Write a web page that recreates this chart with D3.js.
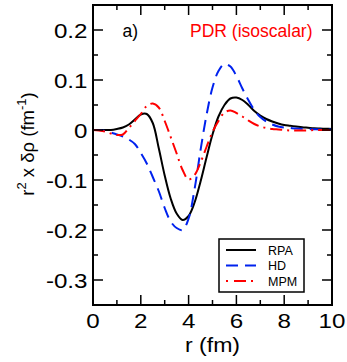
<!DOCTYPE html>
<html><head><meta charset="utf-8">
<script src="https://cdn.jsdelivr.net/npm/d3@7"></script>
<style>body{margin:0;background:#fff}svg{display:block}text{font-family:"Liberation Sans",Arial,Helvetica,sans-serif}</style>
</head><body>
<script>
const rValues = d3.range(0, 10.001, 0.25);
const rpa = [0,0,0,0,0.002,0.005,0.011,0.021,0.031,0.032,0.014,-0.036,-0.091,-0.137,-0.167,-0.18,-0.172,-0.145,-0.103,-0.055,-0.009,0.027,0.05,0.063,0.065,0.06,0.05,0.038,0.029,0.022,0.017,0.013,0.010,0.0085,0.007,0.0055,0.0045,0.0035,0.003,0.0025,0.002];
const hd = [0,0,-0.002,-0.005,-0.009,-0.013,-0.019,-0.028,-0.046,-0.067,-0.094,-0.122,-0.156,-0.183,-0.196,-0.2,-0.177,-0.118,-0.04,0.03,0.085,0.118,0.132,0.127,0.108,0.083,0.06,0.04,0.026,0.017,0.011,0.007,0.005,0.004,0.003,0.0025,0.002,0.0015,0.001,0.001,0.001];
const mpm = [0,-0.001,-0.003,-0.007,-0.01,-0.009,0.004,0.018,0.032,0.048,0.053,0.045,0.018,-0.014,-0.047,-0.08,-0.099,-0.09,-0.065,-0.034,-0.004,0.018,0.035,0.039,0.034,0.027,0.019,0.012,0.007,0.004,0.002,0.001,0,-0.001,-0.001,-0.001,-0.001,0,0,0,0];
const seriesNames = ["RPA","HD","MPM"];
const xTicks = [0,2,4,6,8,10];
const yTicks = [-0.3,-0.2,-0.1,0,0.1,0.2];
const yTickLabels = ["-0.3","-0.2","-0.1","0","0.1","0.2"];

const W = 347, H = 362;
const svg = d3.select("body").append("svg").attr("width", W).attr("height", H);
const x = d3.scaleLinear().domain([0,10]).range([93,332]);
const y = d3.scaleLinear().domain([-0.35,0.25]).range([305,5]);

const styles = [
  {color:"#000", dash:null},
  {color:"#0022ee", dash:"12,7"},
  {color:"#ff0000", dash:"12,5,2,5"}
];
const data = [rpa, hd, mpm];
const line = d3.line().x((d,i)=>x(rValues[i])).y(d=>y(d)).curve(d3.curveCatmullRom.alpha(0.5));

svg.append("clipPath").attr("id","c").append("rect")
  .attr("x",x(0)).attr("y",y(0.25)).attr("width",x(10)-x(0)).attr("height",y(-0.35)-y(0.25));
const g = svg.append("g").attr("clip-path","url(#c)");
data.forEach((arr,k)=>{
  g.append("path").attr("d", line(arr)).attr("fill","none")
   .attr("stroke", styles[k].color).attr("stroke-width",2)
   .attr("stroke-dasharray", styles[k].dash);
});

// frame
svg.append("rect").attr("x",x(0)).attr("y",y(0.25)).attr("width",x(10)-x(0)).attr("height",y(-0.35)-y(0.25))
  .attr("fill","none").attr("stroke","#000").attr("stroke-width",2);

// ticks
const tk = svg.append("g").attr("stroke","#000").attr("stroke-width",1.5);
d3.range(0,10.001,1).forEach(v=>{
  const L = (Math.round(v)%2===0)?10:5;
  tk.append("line").attr("x1",x(v)).attr("x2",x(v)).attr("y1",y(-0.35)).attr("y2",y(-0.35)-L);
  tk.append("line").attr("x1",x(v)).attr("x2",x(v)).attr("y1",y(0.25)).attr("y2",y(0.25)+L);
});
d3.range(-0.35,0.2501,0.05).forEach(v=>{
  const major = Math.abs(Math.round(v*100)%10)===0;
  const L = major?10:5;
  tk.append("line").attr("x1",x(0)).attr("x2",x(0)+L).attr("y1",y(v)).attr("y2",y(v));
  tk.append("line").attr("x1",x(10)).attr("x2",x(10)-L).attr("y1",y(v)).attr("y2",y(v));
});

// tick labels (slightly wide glyphs as in the reference)
const sx = 1.15;
xTicks.forEach(v=>{
  svg.append("text").attr("transform",`translate(${x(v)},327.5) scale(${sx},1)`).attr("text-anchor","middle")
    .attr("font-size",21).text(v);
});
yTicks.forEach((v,i)=>{
  svg.append("text").attr("transform",`translate(87.5,${y(v)+7.5}) scale(${sx},1)`).attr("text-anchor","end")
    .attr("font-size",21).text(yTickLabels[i]);
});

// axis titles
svg.append("text").attr("transform",`translate(${x(5)},351.5) scale(1.1,1)`).attr("text-anchor","middle")
  .attr("font-size",21).text("r (fm)");
const yl = svg.append("text").attr("transform","translate(34,144) rotate(-90)")
  .attr("text-anchor","middle").attr("font-size",18.5);
yl.append("tspan").text("r");
yl.append("tspan").attr("dy",-8).attr("font-size",13).text("2");
yl.append("tspan").attr("dy",8).text(" x δρ (fm");
yl.append("tspan").attr("dy",-8).attr("font-size",13).text("-1");
yl.append("tspan").attr("dy",8).text(")");

// annotations
svg.append("text").attr("x",122.5).attr("y",36.5).attr("font-size",17.5).text("a)");
svg.append("text").attr("x",190).attr("y",36.5).attr("font-size",17.5).attr("fill","#ff0000").text("PDR (isoscalar)");

// legend
const lg = svg.append("g");
lg.append("rect").attr("x",219).attr("y",239).attr("width",85).attr("height",53)
  .attr("fill","#fff").attr("stroke","#000").attr("stroke-width",1.5);
seriesNames.forEach((n,k)=>{
  const yy = 250 + k*15.5;
  lg.append("line").attr("x1",226).attr("x2",256).attr("y1",yy).attr("y2",yy)
    .attr("stroke",styles[k].color).attr("stroke-width",2)
    .attr("stroke-dasharray", k===2 ? "2,6,12,5" : styles[k].dash);
  lg.append("text").attr("x",268).attr("y",yy+4.5).attr("font-size",12.5).text(n);
});
</script>
</body></html>
